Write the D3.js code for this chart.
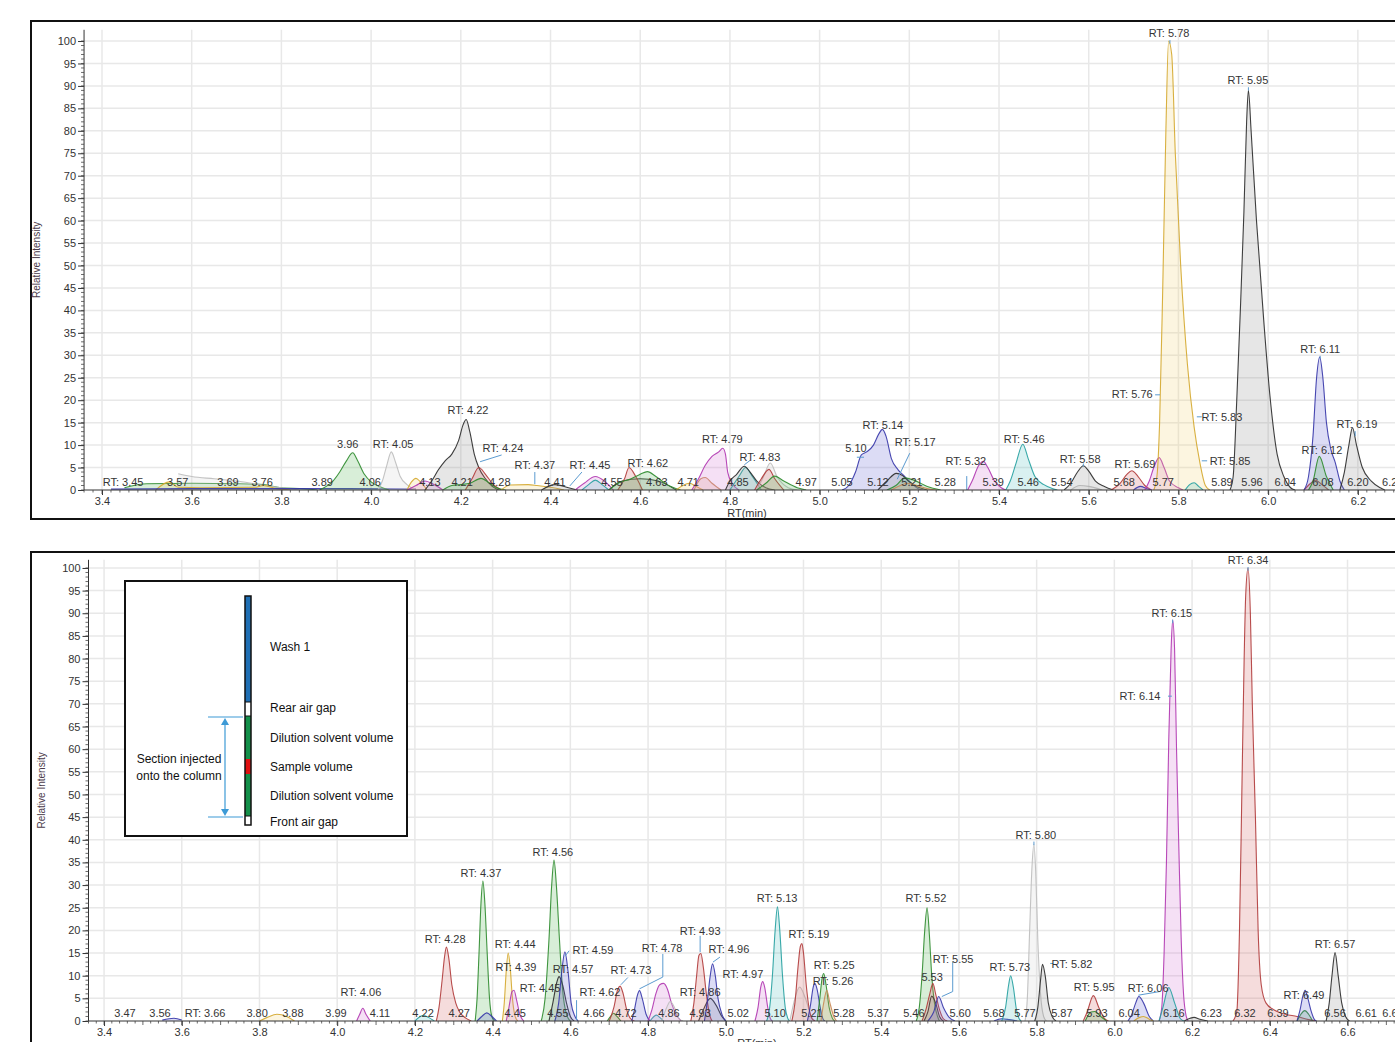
<!DOCTYPE html>
<html><head><meta charset="utf-8">
<script src="https://cdn.jsdelivr.net/npm/d3@7"></script>
<style>
body{margin:0;background:#fff}
svg{display:block}
text{font-family:"Liberation Sans",Arial,sans-serif}
</style>
</head><body>
<svg id="c" width="1395" height="1042"></svg>
<script>
// ---------------- DATA ----------------
const topXTicks = [3.4,3.6,3.8,4.0,4.2,4.4,4.6,4.8,5.0,5.2,5.4,5.6,5.8,6.0,6.2];
const botXTicks = [3.4,3.6,3.8,4.0,4.2,4.4,4.6,4.8,5.0,5.2,5.4,5.6,5.8,6.0,6.2,6.4,6.6];
const yTicks = [0,5,10,15,20,25,30,35,40,45,50,55,60,65,70,75,80,85,90,95,100];
const xTitle = "RT(min)";
const yTitle = "Relative Intensity";

// Top chromatogram traces: [channel, [[rt, intensity], ...]]
const topTraces = [
  ["G", [[3.45,0.5],[3.5,1.4],[3.6,1.5],[3.7,1.4],[3.76,1.2],[3.8,0.5],[3.85,0.3],[3.88,0]]],
  ["L", [[3.57,3.6],[3.6,3.0],[3.65,2.5],[3.7,2.0],[3.75,1.2],[3.8,0.5],[3.84,0]]],
  ["Y", [[3.52,0],[3.55,1.8],[3.57,0.6],[3.62,0.5],[3.74,0.6],[3.76,1.0],[3.79,0.3],[3.82,0]]],
  ["B", [[3.42,0.2],[3.6,0.3],[3.8,0.3],[3.95,0.3],[4.1,0.2]]],
  ["G", [[3.885,0],[3.9,0.8],[3.915,2],[3.93,4],[3.945,6.5],[3.959,8.3],[3.97,6.5],[3.985,3.5],[4.0,1.8],[4.02,0.7],[4.04,0]]],
  ["L", [[4.015,0],[4.025,2],[4.035,5.5],[4.045,8.5],[4.055,6],[4.065,3],[4.08,1.2],[4.1,0]]],
  ["Y", [[4.08,0],[4.09,1.8],[4.1,2.6],[4.11,1.8],[4.125,0]]],
  ["M", [[4.08,0],[4.1,1],[4.12,2],[4.14,1.2],[4.16,0]]],
  ["K", [[4.12,0],[4.135,2],[4.15,4.5],[4.165,6.5],[4.18,8],[4.195,11],[4.205,14.5],[4.212,15.7],[4.22,13],[4.23,8],[4.24,5],[4.255,2.5],[4.27,0.8],[4.285,0]]],
  ["R", [[4.21,0],[4.225,2.5],[4.24,5],[4.255,3.5],[4.27,1.5],[4.29,0]]],
  ["G", [[4.16,0],[4.18,1],[4.2,1.2],[4.22,1.5],[4.245,2.6],[4.26,1.8],[4.28,0.5],[4.3,0]]],
  ["Y", [[4.29,0],[4.31,1.1],[4.35,1.2],[4.37,1.0],[4.4,0.6],[4.43,0]]],
  ["K", [[4.38,0],[4.41,1.2],[4.44,0.5],[4.46,0]]],
  ["M", [[4.455,0],[4.475,1.5],[4.5,3],[4.52,2],[4.54,0]]],
  ["C", [[4.47,0],[4.485,1.2],[4.5,2.2],[4.515,1.2],[4.53,0]]],
  ["K", [[4.53,0],[4.56,2],[4.6,2.5],[4.64,2],[4.68,0]]],
  ["R", [[4.55,0],[4.565,2.5],[4.575,5],[4.59,3],[4.605,0]]],
  ["G", [[4.53,0],[4.55,1.5],[4.58,2.5],[4.6,3.5],[4.616,4.1],[4.635,3],[4.66,1.2],[4.69,0]]],
  ["Y", [[4.68,0],[4.695,1],[4.71,1.5],[4.725,0.8],[4.74,0]]],
  ["O", [[4.72,0],[4.735,2.5],[4.745,2.8],[4.76,1.5],[4.78,0]]],
  ["M", [[4.715,0],[4.73,2.5],[4.745,5.5],[4.76,7.5],[4.775,8.5],[4.784,9.3],[4.79,8],[4.795,4],[4.805,1.5],[4.82,0]]],
  ["C", [[4.8,0],[4.82,3],[4.835,5],[4.85,3],[4.87,0]]],
  ["K", [[4.79,0],[4.8,2],[4.815,3.5],[4.832,5.3],[4.845,4],[4.86,2],[4.88,0.5],[4.9,0]]],
  ["L", [[4.86,0],[4.875,3],[4.89,6],[4.905,3],[4.93,0.5],[4.95,0]]],
  ["R", [[4.855,0],[4.87,2.5],[4.887,4.6],[4.9,2.5],[4.92,0]]],
  ["G", [[4.86,0],[4.88,1.5],[4.9,3.1],[4.92,2],[4.95,0.5],[4.97,0]]],
  ["B", [[5.05,0],[5.065,1],[5.08,4],[5.093,7.8],[5.105,8.5],[5.12,10],[5.132,12.5],[5.14,13.5],[5.148,12],[5.16,7],[5.175,4.5],[5.19,3],[5.205,1.5],[5.22,0.3],[5.23,0]]],
  ["K", [[5.13,0],[5.15,2],[5.171,3.7],[5.185,3.2],[5.2,1.8],[5.22,0.6],[5.24,0]]],
  ["G", [[5.15,0],[5.17,1],[5.19,2.7],[5.21,2.2],[5.24,0.8],[5.27,0]]],
  ["O", [[5.16,0],[5.18,1],[5.195,1.5],[5.21,1.2],[5.24,0.3],[5.26,0]]],
  ["M", [[5.33,0],[5.34,2],[5.355,5.5],[5.365,6.4],[5.375,5],[5.39,2],[5.405,0.5],[5.415,0]]],
  ["C", [[5.415,0],[5.425,2],[5.438,6],[5.453,10.2],[5.465,7],[5.48,3],[5.5,1.2],[5.52,0.3],[5.53,0]]],
  ["L", [[5.56,0],[5.58,1],[5.6,0.8],[5.63,0]]],
  ["K", [[5.545,0],[5.56,1.5],[5.575,4],[5.588,5.4],[5.6,4.2],[5.615,2],[5.635,0.8],[5.655,0]]],
  ["R", [[5.65,0],[5.67,1.5],[5.685,3.5],[5.696,4.3],[5.71,3],[5.725,1],[5.74,0]]],
  ["B", [[5.7,0],[5.715,0.8],[5.73,0.3],[5.74,0]]],
  ["M", [[5.725,0],[5.735,2],[5.745,5],[5.757,7.2],[5.768,5],[5.78,2],[5.8,0.5],[5.81,0]]],
  ["Y", [[5.745,0],[5.752,3],[5.758,15],[5.765,45],[5.772,80],[5.778,100],[5.785,97],[5.793,75],[5.805,50],[5.82,28],[5.835,14],[5.848,6],[5.86,1],[5.87,0]]],
  ["C", [[5.815,0],[5.825,1.2],[5.835,1.6],[5.845,0.8],[5.855,0]]],
  ["K", [[5.915,0],[5.922,3],[5.93,20],[5.938,40],[5.946,62],[5.952,82],[5.956,89],[5.962,80],[5.974,60],[5.99,38],[6.004,21],[6.02,8],[6.035,3],[6.05,0.5],[6.06,0]]],
  ["R", [[6.08,0],[6.095,1.5],[6.105,2.2],[6.12,1.2],[6.135,0]]],
  ["B", [[6.08,0],[6.09,3],[6.1,12],[6.108,25],[6.115,29.6],[6.122,25],[6.13,15],[6.14,9],[6.15,6],[6.16,2],[6.17,0]]],
  ["G", [[6.09,0],[6.1,2],[6.114,7.5],[6.13,3],[6.145,0]]],
  ["K", [[6.16,0],[6.17,4],[6.18,10],[6.188,13.9],[6.197,10],[6.21,5],[6.23,2],[6.25,0.5],[6.26,0]]]
];

// Top peak labels: [text, rt, intensity]
const topLabels = [
  ["RT: 3.45",3.447,0.9],["3.57",3.569,0.9],["3.69",3.681,0.9],["3.76",3.757,0.9],["3.89",3.891,0.9],
  ["4.06",3.998,0.9],["4.13",4.131,0.9],["4.21",4.203,0.9],["4.28",4.287,0.9],["4.41",4.410,0.9],
  ["4.55",4.537,0.9],["4.63",4.637,0.9],["4.71",4.707,0.9],["4.85",4.818,0.9],["4.97",4.970,0.9],
  ["5.05",5.050,0.9],["5.12",5.130,0.9],["5.21",5.206,0.9],["5.28",5.280,0.9],["5.39",5.387,0.9],
  ["5.46",5.465,0.9],["5.54",5.540,0.9],["5.68",5.679,0.9],["5.77",5.766,0.9],["5.89",5.897,0.9],
  ["5.96",5.964,0.9],["6.04",6.038,0.9],["6.08",6.122,0.9],["6.20",6.200,0.9],["6.25",6.278,0.9],
  ["3.96",3.948,9.35],["RT: 4.05",4.049,9.35],["RT: 4.22",4.216,16.9],["RT: 4.24",4.294,8.5],
  ["RT: 4.37",4.365,4.7],["RT: 4.45",4.488,4.7],["RT: 4.62",4.617,5.1],["RT: 4.79",4.783,10.5],
  ["RT: 4.83",4.867,6.5],["5.10",5.081,8.5],["RT: 5.14",5.141,13.6],["RT: 5.17",5.213,9.8],
  ["RT: 5.32",5.326,5.6],["RT: 5.46",5.456,10.5],["RT: 5.58",5.581,6.0],["RT: 5.69",5.703,4.9],
  ["RT: 5.76",5.697,20.5],["RT: 5.78",5.779,100.9],["RT: 5.83",5.897,15.4],["RT: 5.85",5.915,5.6],
  ["RT: 5.95",5.955,90.4],["RT: 6.11",6.116,30.5],["RT: 6.12",6.120,8.0],["RT: 6.19",6.198,13.8]
];
// Top label leader lines: polylines of [rt, intensity]
const topLeaders = [
  [[4.291,7.8],[4.243,6.3]],
  [[4.365,4.0],[4.365,1.3]],
  [[4.470,4.0],[4.443,0.9]],
  [[4.845,6.6],[4.832,5.6]],
  [[5.201,8.2],[5.173,2.4]],
  [[5.083,7.3],[5.099,7.3]],
  [[5.328,3.1],[5.328,0]],
  [[5.748,21.2],[5.759,21.2]],
  [[5.841,16.3],[5.852,16.3]],
  [[5.852,6.5],[5.864,6.5]],
  [[6.194,13.1],[6.194,12.0]],
  [[5.781,100.2],[5.781,99.4]],
  [[5.956,89.7],[5.956,89.0]],
  [[6.116,29.9],[6.116,29.2]],
  [[5.588,5.9],[5.588,5.2]]
];

// Bottom chromatogram traces
const botTraces = [
  ["Y", [[3.8,0],[3.82,0.8],[3.845,1.5],[3.87,1],[3.89,0]]],
  ["B", [[3.55,0.2],[3.58,0.6],[3.6,0.2]]],
  ["M", [[4.05,0],[4.058,1.5],[4.066,2.8],[4.074,1.5],[4.085,0]]],
  ["C", [[4.2,0],[4.212,0.9],[4.222,1.2],[4.235,0.8],[4.25,0]]],
  ["R", [[4.255,0],[4.262,3],[4.27,9],[4.276,14],[4.281,16.3],[4.287,14],[4.295,8],[4.305,4],[4.315,2],[4.33,0.7],[4.345,0]]],
  ["G", [[4.355,0],[4.36,5],[4.365,15],[4.37,26],[4.375,30.9],[4.38,26],[4.386,15],[4.392,5],[4.398,1],[4.405,0]]],
  ["B", [[4.36,0],[4.372,1],[4.385,1.8],[4.398,1],[4.41,0]]],
  ["Y", [[4.425,0],[4.43,4],[4.435,11],[4.44,15],[4.445,12],[4.451,5],[4.458,1],[4.465,0]]],
  ["M", [[4.435,0],[4.442,3],[4.45,6.5],[4.455,6.8],[4.462,4.5],[4.47,1.5],[4.48,0]]],
  ["G", [[4.525,0],[4.535,5],[4.545,18],[4.552,30],[4.558,35.5],[4.564,30],[4.572,18],[4.58,7],[4.59,1.5],[4.6,0]]],
  ["K", [[4.545,0],[4.555,4],[4.565,8.5],[4.571,9.8],[4.58,8],[4.59,4],[4.6,1],[4.61,0]]],
  ["B", [[4.56,0],[4.57,4],[4.578,11],[4.586,15.3],[4.594,11],[4.602,4],[4.612,1],[4.62,0]]],
  ["G", [[4.695,0],[4.705,1.2],[4.711,1.7],[4.72,1],[4.73,0]]],
  ["R", [[4.7,0],[4.712,3],[4.722,7],[4.728,7.7],[4.736,6],[4.745,2.5],[4.755,0.5],[4.765,0]]],
  ["B", [[4.758,0],[4.765,2.5],[4.772,5.5],[4.778,6.7],[4.785,5],[4.795,1.5],[4.805,0]]],
  ["C", [[4.805,0],[4.815,1],[4.822,1.3],[4.83,0.8],[4.84,0]]],
  ["M", [[4.8,0],[4.81,2.5],[4.82,6],[4.83,8],[4.84,8.3],[4.85,7],[4.86,4],[4.872,1.5],[4.885,0]]],
  ["L", [[4.835,0],[4.848,3],[4.857,4.3],[4.868,3],[4.88,0.5],[4.89,0]]],
  ["K", [[4.93,0],[4.945,3],[4.96,5],[4.975,3.5],[4.99,1],[5.0,0]]],
  ["R", [[4.91,0],[4.918,4],[4.925,10],[4.931,14.5],[4.936,14.9],[4.942,12],[4.95,6],[4.958,1.5],[4.965,0]]],
  ["B", [[4.945,0],[4.952,4],[4.96,10],[4.966,12.6],[4.973,10],[4.98,5],[4.99,1.5],[5.0,0]]],
  ["M", [[5.075,0],[5.083,3],[5.09,7.5],[5.095,8.7],[5.1,7.5],[5.108,3],[5.115,0.5],[5.12,0]]],
  ["C", [[5.105,0],[5.113,3],[5.12,10],[5.127,20],[5.133,25.2],[5.139,20],[5.146,10],[5.153,3],[5.16,0.5],[5.165,0]]],
  ["L", [[5.165,0],[5.175,4],[5.19,7.5],[5.205,5],[5.22,1],[5.23,0]]],
  ["R", [[5.17,0],[5.178,4],[5.186,12],[5.192,16.5],[5.196,17.1],[5.2,15],[5.207,8],[5.215,2.5],[5.222,0.5],[5.23,0]]],
  ["B", [[5.21,0],[5.218,3.5],[5.225,7.5],[5.229,8.3],[5.235,7],[5.243,3],[5.25,0.5],[5.255,0]]],
  ["G", [[5.235,0],[5.242,5],[5.248,9.5],[5.252,10.5],[5.258,8],[5.266,3],[5.275,0.5],[5.28,0]]],
  ["O", [[5.245,0],[5.252,4],[5.26,6.8],[5.268,4],[5.278,1],[5.285,0]]],
  ["G", [[5.49,0],[5.498,3],[5.505,10],[5.512,20],[5.518,25],[5.524,19],[5.53,10],[5.537,4],[5.545,1],[5.55,0]]],
  ["K", [[5.51,0],[5.52,2],[5.53,5.5],[5.54,4],[5.55,1],[5.56,0]]],
  ["R", [[5.505,0],[5.515,2.5],[5.525,6],[5.533,8.3],[5.54,6],[5.55,2.5],[5.56,0.5],[5.57,0]]],
  ["B", [[5.52,0],[5.535,2],[5.548,5.4],[5.56,3],[5.575,0.8],[5.59,0]]],
  ["B", [[5.69,0],[5.71,0.5],[5.73,0.3],[5.75,0]]],
  ["C", [[5.71,0],[5.72,3],[5.728,8],[5.733,10],[5.74,7.5],[5.748,2.5],[5.755,0.5],[5.76,0]]],
  ["L", [[5.77,0],[5.776,5],[5.782,20],[5.788,34],[5.793,39],[5.798,32],[5.803,18],[5.81,6],[5.818,1],[5.825,0]]],
  ["K", [[5.795,0],[5.803,3],[5.81,9],[5.815,12.5],[5.822,10],[5.83,4],[5.84,1],[5.85,0]]],
  ["R", [[5.92,0],[5.93,2],[5.946,5.6],[5.96,3],[5.975,0.5],[5.985,0]]],
  ["G", [[5.925,0],[5.94,2],[5.95,2.1],[5.965,1],[5.98,0]]],
  ["B", [[6.035,0],[6.045,1.5],[6.055,4],[6.063,5.4],[6.075,4],[6.09,1],[6.1,0]]],
  ["Y", [[6.05,0],[6.065,0.8],[6.075,1],[6.09,0.4],[6.1,0]]],
  ["M", [[6.115,0],[6.122,3],[6.128,15],[6.134,35],[6.14,62],[6.146,82],[6.15,88.5],[6.155,82],[6.16,60],[6.166,38],[6.172,18],[6.178,6],[6.185,1],[6.19,0]]],
  ["C", [[6.115,0],[6.125,3],[6.14,7.4],[6.155,4],[6.17,0.5],[6.18,0]]],
  ["K", [[6.18,0],[6.195,0.6],[6.205,0.8],[6.22,0.4],[6.24,0]]],
  ["R", [[6.305,0],[6.315,2],[6.322,20],[6.328,50],[6.334,80],[6.338,94],[6.344,100],[6.35,90],[6.355,70],[6.363,45],[6.37,20],[6.378,8],[6.39,4],[6.41,2.5],[6.44,1.5],[6.47,1],[6.5,0.3],[6.52,0]]],
  ["G", [[6.47,0],[6.48,1.5],[6.49,2.3],[6.5,1.5],[6.51,0]]],
  ["B", [[6.47,0],[6.478,2.5],[6.485,5.5],[6.491,6.8],[6.498,5],[6.507,2],[6.515,0.3],[6.52,0]]],
  ["K", [[6.545,0],[6.553,4],[6.56,10],[6.568,15.1],[6.576,10],[6.585,4],[6.595,1],[6.605,0]]]
];

const botLabels = [
  ["RT: 6.34",6.344,100.9],["RT: 6.15",6.148,89.2],["RT: 6.14",6.066,70.9],["RT: 5.80",5.798,40.2],
  ["RT: 4.56",4.555,36.4],["RT: 4.37",4.370,31.8],["RT: 5.13",5.132,26.3],["RT: 5.52",5.515,26.3],
  ["RT: 4.93",4.934,19.0],["RT: 5.19",5.214,18.3],["RT: 4.28",4.278,17.2],["RT: 4.44",4.458,16.1],
  ["RT: 4.78",4.836,15.2],["RT: 4.59",4.658,14.8],["RT: 4.96",5.008,15.0],["RT: 6.57",6.568,16.1],
  ["RT: 5.55",5.585,12.8],["RT: 5.25",5.279,11.5],["RT: 5.73",5.731,11.0],["RT: 5.82",5.891,11.7],
  ["RT: 4.39",4.460,11.0],["RT: 4.57",4.607,10.6],["RT: 4.73",4.756,10.4],["RT: 4.97",5.044,9.5],
  ["5.53",5.531,8.8],["RT: 5.26",5.276,7.9],["RT: 5.95",5.948,6.6],["RT: 6.06",6.087,6.4],
  ["RT: 4.06",4.061,5.5],["RT: 4.45",4.522,6.4],["RT: 4.62",4.676,5.5],["RT: 4.86",4.934,5.5],
  ["RT: 6.49",6.488,4.9],
  ["3.47",3.454,0.9],["3.56",3.544,0.9],["RT: 3.66",3.660,0.9],["3.80",3.794,0.9],["3.88",3.886,0.9],
  ["3.99",3.997,0.9],["4.11",4.110,0.9],["4.22",4.221,0.9],["4.27",4.314,0.9],["4.45",4.458,0.9],
  ["4.55",4.568,0.9],["4.66",4.661,0.9],["4.72",4.743,0.9],["4.86",4.854,0.9],["4.93",4.934,0.9],
  ["5.02",5.032,0.9],["5.10",5.127,0.9],["5.21",5.222,0.9],["5.28",5.304,0.9],["5.37",5.392,0.9],
  ["5.46",5.484,0.9],["5.60",5.603,0.9],["5.68",5.690,0.9],["5.77",5.770,0.9],["5.87",5.865,0.9],
  ["5.93",5.955,0.9],["6.04",6.038,0.9],["6.16",6.153,0.9],["6.23",6.249,0.9],["6.32",6.336,0.9],
  ["6.39",6.421,0.9],["6.56",6.568,0.9],["6.61",6.648,0.9],["6.69",6.717,0.9]
];
const botLeaders = [
  [[4.597,15.5],[4.586,14.3]],
  [[4.616,4.6],[4.616,0.2]],
  [[4.838,14.8],[4.838,9.7],[4.778,7.1]],
  [[4.934,18.8],[4.934,15.2]],
  [[4.985,14.1],[4.967,13.0]],
  [[4.748,9.6],[4.730,8.0]],
  [[5.584,13.1],[5.584,6.5],[5.556,5.4]],
  [[6.138,71.7],[6.148,71.7]],
  [[5.835,12.7],[5.843,12.7]],
  [[6.117,6.5],[6.062,5.7]],
  [[4.415,11.7],[4.424,11.7]],
  [[6.344,100.2],[6.344,99.4]],
  [[6.150,88.6],[6.150,87.8]],
  [[5.793,39.6],[5.793,38.8]]
];

// Injection diagram legend
const legendSegments = ["Wash 1","Rear air gap","Dilution solvent volume","Sample volume","Dilution solvent volume","Front air gap"];
const legendNote = ["Section injected","onto the column"];

// ---------------- STYLE ----------------
const palette = {
  K:["#2a2a2a","#8c8c8c"], R:["#b03a3a","#d06060"], G:["#2e8b2e","#4cb04c"], B:["#3535a8","#6060d0"],
  M:["#b035b0","#d070d0"], C:["#25a0a0","#50c0c0"], Y:["#d4a72c","#f0d070"], L:["#bdbdbd","#d8d8d8"],
  O:["#c98a55","#e0a070"]
};

const svg = d3.select("#c");

function panel(cfg){
  const g = svg.append("g");
  const x = d3.scaleLinear().domain(cfg.xDom).range(cfg.xRange);
  const y = d3.scaleLinear().domain(cfg.yDom).range(cfg.yRange);
  const [x0,x1] = cfg.xRange, [yb,yt] = cfg.yRange;
  const clipId = "clip"+cfg.id;
  svg.append("clipPath").attr("id",clipId).append("rect")
     .attr("x",x0).attr("y",yt-20).attr("width",x1-x0).attr("height",yb-yt+20);
  // grid
  g.append("g").selectAll("line").data(cfg.xTicks).join("line")
    .attr("x1",d=>x(d)).attr("x2",d=>x(d)).attr("y1",yb).attr("y2",yt)
    .attr("stroke","#e8e8e8").attr("stroke-width",1.5);
  g.append("g").selectAll("line").data(yTicks.filter(d=>d>0)).join("line")
    .attr("x1",x0).attr("x2",x1).attr("y1",d=>y(d)).attr("y2",d=>y(d))
    .attr("stroke","#e8e8e8").attr("stroke-width",1.5);
  // traces
  const area = d3.area().x(d=>x(d[0])).y0(y(0)).y1(d=>y(d[1])).curve(d3.curveMonotoneX);
  const line = d3.line().x(d=>x(d[0])).y(d=>y(d[1])).curve(d3.curveMonotoneX);
  const tg = g.append("g").attr("clip-path",`url(#${clipId})`);
  cfg.traces.forEach(([ch,pts])=>{
    const [sc,fc] = palette[ch];
    tg.append("path").attr("d",area(pts)).attr("fill",fc).attr("fill-opacity",ch==="L"?0.25:0.22);
    tg.append("path").attr("d",line(pts)).attr("fill","none").attr("stroke",sc).attr("stroke-width",1.1).attr("stroke-opacity",0.9);
  });
  // leaders
  const ll = d3.line().x(d=>x(d[0])).y(d=>y(d[1]));
  g.append("g").selectAll("path").data(cfg.leaders).join("path")
    .attr("d",ll).attr("fill","none").attr("stroke","#5b9bd0").attr("stroke-width",1);
  // labels
  g.append("g").selectAll("text").data(cfg.labels).join("text")
    .attr("x",d=>x(d[1])).attr("y",d=>y(d[2]))
    .attr("text-anchor","middle").attr("font-size",11).attr("fill","#353535")
    .text(d=>d[0]);
  // y axis
  const ya = g.append("g").attr("transform",`translate(${x0},0)`)
    .call(d3.axisLeft(y).tickValues(yTicks).tickSize(6).tickPadding(2).tickFormat(d3.format("d")));
  ya.select(".domain").attr("d",`M0,${yb}V${yt}`).attr("stroke","#333");
  ya.selectAll(".tick line").attr("stroke","#333");
  ya.selectAll("text").attr("font-size",11).attr("fill","#333").attr("font-family","Liberation Sans, Arial");
  g.append("g").selectAll("line").data(d3.range(0,101,1)).join("line")
    .attr("x1",x0-3).attr("x2",x0).attr("y1",d=>y(d)).attr("y2",d=>y(d)).attr("stroke","#444").attr("stroke-width",0.8);
  // x axis
  const xa = g.append("g").attr("transform",`translate(0,${yb})`)
    .call(d3.axisBottom(x).tickValues(cfg.xTicks).tickSize(5).tickPadding(2).tickFormat(d3.format(".1f")));
  xa.select(".domain").attr("d",`M${x0},0H${x1}`).attr("stroke","#333");
  xa.selectAll(".tick line").attr("stroke","#333");
  xa.selectAll("text").attr("font-size",11).attr("fill","#333").attr("font-family","Liberation Sans, Arial");
  const minor = d3.range(Math.round(cfg.xDom[0]*50), Math.round(cfg.xDom[1]*50)+1).map(d=>d/50);
  g.append("g").selectAll("line").data(minor).join("line")
    .attr("x1",d=>x(d)).attr("x2",d=>x(d)).attr("y1",yb).attr("y2",d=>yb+ (Math.abs(d*10-Math.round(d*10))<1e-6?4:2.5))
    .attr("stroke","#444").attr("stroke-width",0.8);
  // titles
  g.append("text").attr("x",(cfg.xTitleX)).attr("y",yb+cfg.xTitleDy).attr("text-anchor","middle")
    .attr("font-size",11).attr("fill","#333").text(xTitle);
  g.append("text").attr("transform",`translate(${x0-44},${(yb+yt)/2}) rotate(-90)`)
    .attr("text-anchor","middle").attr("font-size",10).attr("fill","#4a3a4a").text(yTitle);
  return {x,y,g};
}

// frames
svg.append("rect").attr("x",31).attr("y",21).attr("width",1400).attr("height",498)
   .attr("fill","none").attr("stroke","#111").attr("stroke-width",2);
svg.append("rect").attr("x",31).attr("y",552).attr("width",1400).attr("height",520)
   .attr("fill","none").attr("stroke","#111").attr("stroke-width",2);

panel({id:"t", xDom:[3.36,6.3], xRange:[84.06,1402.7], yDom:[0,102.5], yRange:[490,29.8],
  xTicks:topXTicks, traces:topTraces, labels:topLabels, leaders:topLeaders, xTitleX:747, xTitleDy:27});
panel({id:"b", xDom:[3.36,6.75], xRange:[88.5,1405.8], yDom:[0,101.8], yRange:[1021,559.8],
  xTicks:botXTicks, traces:botTraces, labels:botLabels, leaders:botLeaders, xTitleX:757, xTitleDy:26});

// ---------------- injection diagram ----------------
const lg = svg.append("g");
lg.append("rect").attr("x",125).attr("y",581).attr("width",282).attr("height",255)
  .attr("fill","#fff").attr("stroke","#111").attr("stroke-width",2);
const segs = [[596,702,"#1f6fb4"],[702,716,"#fff"],[716,759,"#14904a"],[759,774,"#e01010"],[774,816,"#14904a"],[816,825,"#fff"]];
segs.forEach(([a,b,c])=>{
  lg.append("rect").attr("x",245).attr("y",a).attr("width",6).attr("height",b-a).attr("fill",c);
});
lg.append("rect").attr("x",245).attr("y",596).attr("width",6).attr("height",229)
  .attr("fill","none").attr("stroke","#111").attr("stroke-width",1.5);
[[702],[716],[816]].forEach(([v])=>lg.append("line").attr("x1",245).attr("x2",251).attr("y1",v).attr("y2",v).attr("stroke","#111").attr("stroke-width",1));
const labY = [647,708,738,767,796,822];
lg.selectAll("text.seg").data(legendSegments).join("text").attr("class","seg")
  .attr("x",270).attr("y",(d,i)=>labY[i]+4).attr("font-size",12).attr("fill","#111")
  .attr("font-family","Liberation Sans, Arial").text(d=>d);
lg.selectAll("text.note").data(legendNote).join("text").attr("class","note")
  .attr("x",179).attr("y",(d,i)=>763+i*17).attr("text-anchor","middle").attr("font-size",12).attr("fill","#111")
  .text(d=>d);
const ac = "#3d9ad6";
lg.append("line").attr("x1",208).attr("x2",243).attr("y1",717).attr("y2",717).attr("stroke",ac).attr("stroke-width",1.2);
lg.append("line").attr("x1",208).attr("x2",243).attr("y1",817).attr("y2",817).attr("stroke",ac).attr("stroke-width",1.2);
lg.append("line").attr("x1",225).attr("x2",225).attr("y1",721).attr("y2",813).attr("stroke",ac).attr("stroke-width",1.2);
lg.append("path").attr("d","M221,725L225,718L229,725Z").attr("fill",ac);
lg.append("path").attr("d","M221,809L225,816L229,809Z").attr("fill",ac);
</script>
</body></html>
